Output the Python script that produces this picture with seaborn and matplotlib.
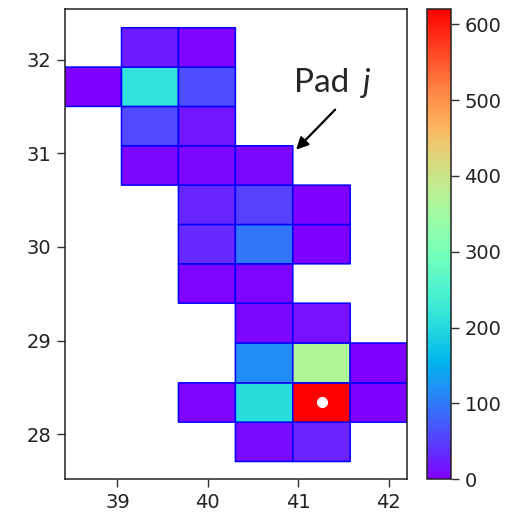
import numpy as np
import matplotlib
matplotlib.use("Agg")
import matplotlib.pyplot as plt
import seaborn as sns

# ---- data ----
col_centers = [38.73, 39.36, 39.99, 40.62, 41.26, 41.89]
row_centers = [32.13, 31.71, 31.29, 30.87, 30.45, 30.03, 29.61, 29.19, 28.76, 28.34, 27.92]
nan = np.nan
pad_values = [
    [nan, 22, 3, nan, nan, nan],
    [0, 215, 62, nan, nan, nan],
    [nan, 60, 18, nan, nan, nan],
    [nan, 5, 5, 5, nan, nan],
    [nan, nan, 30, 52, 2, nan],
    [nan, nan, 32, 95, 2, nan],
    [nan, nan, 4, 4, nan, nan],
    [nan, nan, nan, 5, 14, nan],
    [nan, nan, nan, 115, 370, 2],
    [nan, nan, 3, 208, 620, 2],
    [nan, nan, nan, 8, 27, nan],
]
x_ticks = [39, 40, 41, 42]
y_ticks = [28, 29, 30, 31, 32]
cbar_ticks = [0, 100, 200, 300, 400, 500, 600]
hit_x = [41.26]
hit_y = [28.34]
label_word = "Pad"
label_index = "j"

sns.set_theme(style="ticks")
plt.rcParams["font.family"] = ["DejaVu Sans"]

def edges(c):
    c = np.asarray(c, float)
    mids = (c[:-1] + c[1:]) / 2
    return np.concatenate([[c[0] - (mids[0] - c[0])], mids, [c[-1] + (c[-1] - mids[-1])]])

xe = edges(col_centers)
yc = np.asarray(row_centers)[::-1]
ye = edges(yc)
Z = np.ma.masked_invalid(np.asarray(pad_values, float)[::-1])

fig = plt.figure(figsize=(5.05, 5.14), dpi=100)
ax = fig.add_axes([0.1287, 0.0675, 0.6766, 0.915])
cax = fig.add_axes([0.846, 0.0675, 0.0463, 0.915])

cmap = sns.color_palette("rainbow", as_cmap=True)
mesh = ax.pcolor(xe, ye, Z, cmap=cmap, vmin=0, vmax=620,
                 edgecolors=(0, 0, 1), linewidth=1.1)
ax.plot(hit_x, hit_y, "o", color="white", ms=7, mec="white")

ax.set_xlim(38.42, 42.2)
ax.set_ylim(27.52, 32.54)
ax.set_xticks(x_ticks)
ax.set_yticks(y_ticks)
for a in (ax, cax):
    a.tick_params(labelsize=14, length=5.5, width=1, pad=4.5,
                  colors="#333333", labelcolor="#222222")
    for s in a.spines.values():
        s.set_color("#222222")
        s.set_linewidth(1.1)

cb = fig.colorbar(mesh, cax=cax, ticks=cbar_ticks)
cb.outline.set_edgecolor("#222222")
cb.outline.set_linewidth(1.1)

ax.annotate("", xy=(40.955, 31.017), xytext=(41.43, 31.487),
            arrowprops=dict(arrowstyle="-|>", color="black", lw=1.6, mutation_scale=18))
ax.text(41.56, 31.658, label_word, fontsize=24, family="Lato", ha="right", va="baseline")
ax.text(41.72, 31.658, label_index, fontsize=24, family="Lato", style="italic",
        ha="left", va="baseline")

fig.savefig("out.png", dpi=100)
